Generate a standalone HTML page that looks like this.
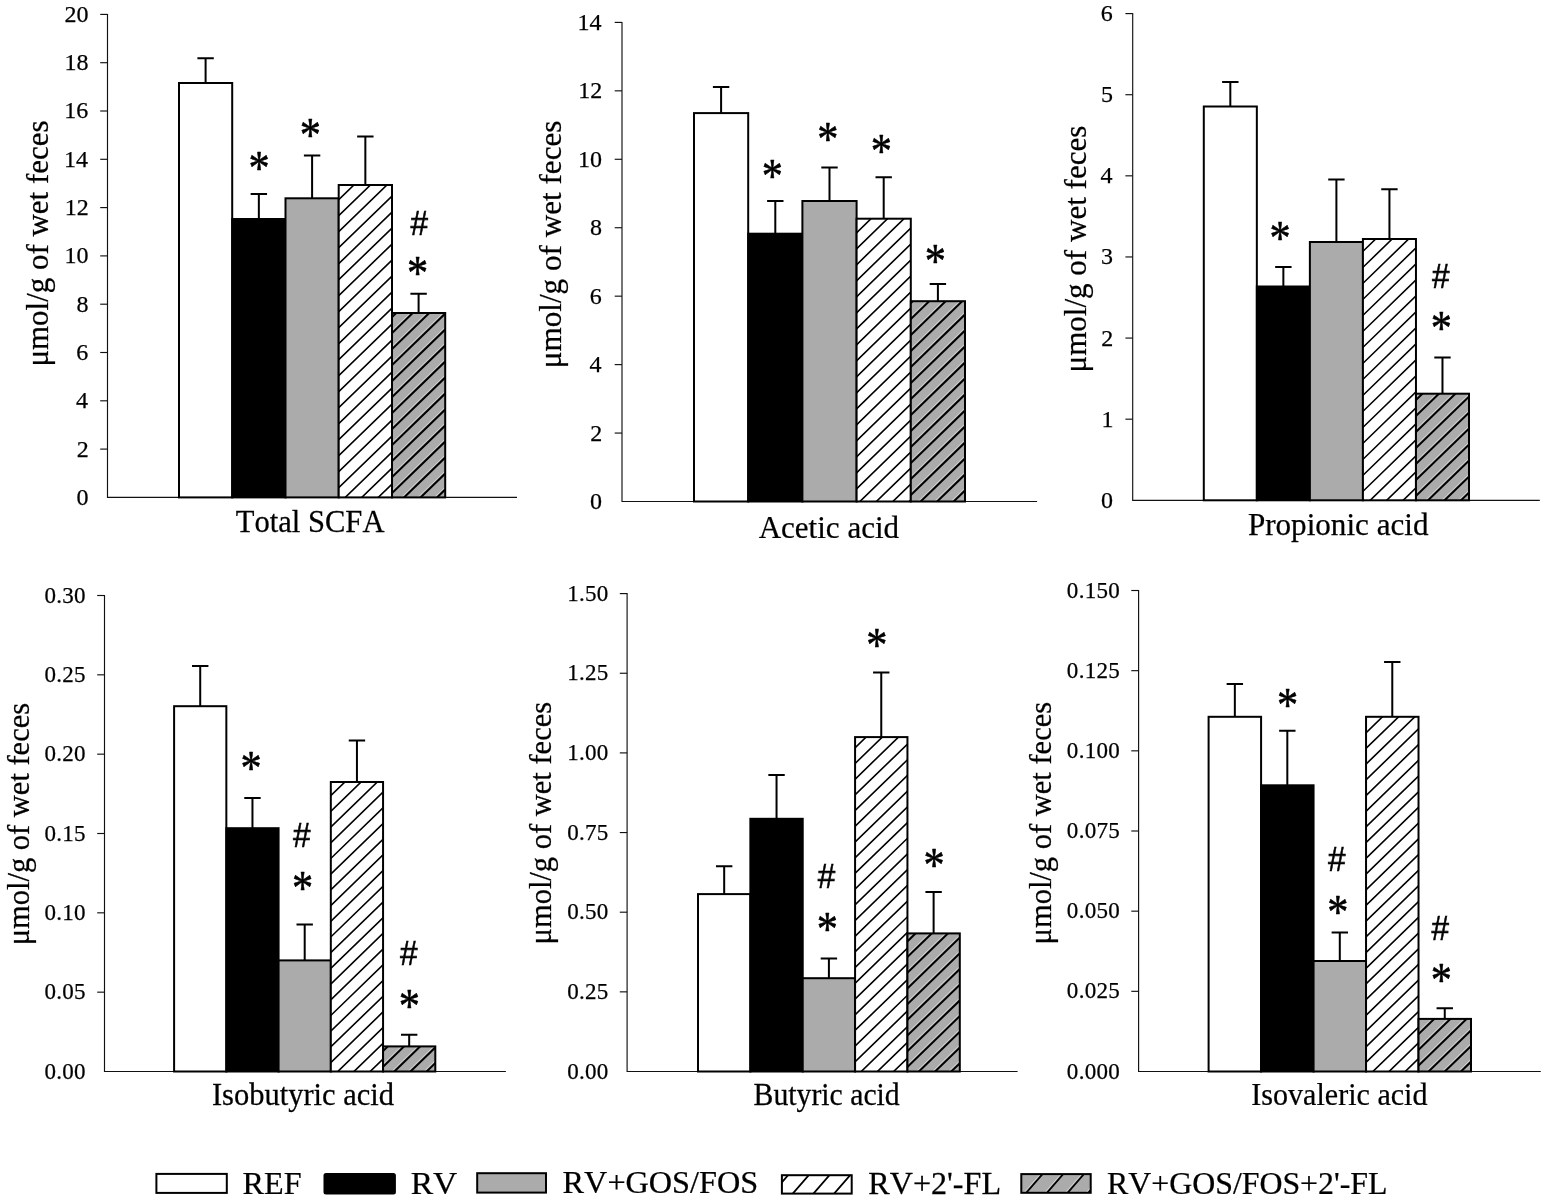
<!DOCTYPE html><html><head><meta charset="utf-8"><title>Short-chain fatty acids</title><style>html,body{margin:0;padding:0;background:#fff;overflow:hidden}svg{display:block}text{font-kerning:none;fill:#000}.s{font-family:"Liberation Serif", "Times New Roman", serif;stroke:#000;stroke-width:0.25px}.a{font-family:"Liberation Sans", Arial, sans-serif}</style></head><body><svg width="1547" height="1201" viewBox="0 0 1547 1201"><rect width="1547" height="1201" fill="#fff"/><g><path d="M107.5,13.9V497.4H517" fill="none" stroke="#111" stroke-width="1.15"/><path d="M100.2,449.1H107.5" stroke="#111" stroke-width="1.15"/><path d="M100.2,400.8H107.5" stroke="#111" stroke-width="1.15"/><path d="M100.2,352.5H107.5" stroke="#111" stroke-width="1.15"/><path d="M100.2,304.2H107.5" stroke="#111" stroke-width="1.15"/><path d="M100.2,255.9H107.5" stroke="#111" stroke-width="1.15"/><path d="M100.2,207.6H107.5" stroke="#111" stroke-width="1.15"/><path d="M100.2,159.3H107.5" stroke="#111" stroke-width="1.15"/><path d="M100.2,111H107.5" stroke="#111" stroke-width="1.15"/><path d="M100.2,62.7H107.5" stroke="#111" stroke-width="1.15"/><path d="M100.2,14.4H107.5" stroke="#111" stroke-width="1.15"/><text class="s" font-size="24" x="76.5" y="504.88">0</text><text class="s" font-size="24" x="76.75" y="456.57">2</text><text class="s" font-size="24" x="76" y="408.27">4</text><text class="s" font-size="24" x="76.25" y="359.85">6</text><text class="s" font-size="24" x="76.5" y="311.68">8</text><text class="s" font-size="24" x="64.5" y="263.38">10</text><text class="s" font-size="24" x="64.75" y="215.08">12</text><text class="s" font-size="24" x="64" y="166.78">14</text><text class="s" font-size="24" x="64.25" y="118.35">16</text><text class="s" font-size="24" x="64.5" y="70.17">18</text><text class="s" font-size="24" x="64.5" y="21.87">20</text><path d="M205.6,83V58.3M197.4,58.3H213.8" stroke="#000" stroke-width="2" fill="none"/><rect x="179" y="83" width="53.2" height="414.4" fill="#fff" stroke="#000" stroke-width="2"/><path d="M258.85,219V194.1M250.65,194.1H267.05" stroke="#000" stroke-width="2" fill="none"/><rect x="232.2" y="219" width="53.3" height="278.4" fill="#000" stroke="#000" stroke-width="2"/><path d="M312.1,198.3V155.5M303.9,155.5H320.3" stroke="#000" stroke-width="2" fill="none"/><rect x="285.5" y="198.3" width="53.2" height="299.1" fill="#ababab" stroke="#000" stroke-width="2"/><path d="M365.35,185V136.6M357.15,136.6H373.55" stroke="#000" stroke-width="2" fill="none"/><clipPath id="c1"><rect x="338.7" y="185" width="53.3" height="312.4"/></clipPath><rect x="338.7" y="185" width="53.3" height="312.4" fill="#fff"/><g clip-path="url(#c1)"><path d="M336.7,153.7L394,98.12M336.7,169.7L394,114.12M336.7,185.7L394,130.12M336.7,201.7L394,146.12M336.7,217.7L394,162.12M336.7,233.7L394,178.12M336.7,249.7L394,194.12M336.7,265.7L394,210.12M336.7,281.7L394,226.12M336.7,297.7L394,242.12M336.7,313.7L394,258.12M336.7,329.7L394,274.12M336.7,345.7L394,290.12M336.7,361.7L394,306.12M336.7,377.7L394,322.12M336.7,393.7L394,338.12M336.7,409.7L394,354.12M336.7,425.7L394,370.12M336.7,441.7L394,386.12M336.7,457.7L394,402.12M336.7,473.7L394,418.12M336.7,489.7L394,434.12M336.7,505.7L394,450.12M336.7,521.7L394,466.12M336.7,537.7L394,482.12M336.7,553.7L394,498.12M336.7,569.7L394,514.12" stroke="#000" stroke-width="1.6" fill="none"/></g><rect x="338.7" y="185" width="53.3" height="312.4" fill="none" stroke="#000" stroke-width="2"/><path d="M418.6,313V293.8M410.4,293.8H426.8" stroke="#000" stroke-width="2" fill="none"/><clipPath id="c2"><rect x="392" y="313" width="53.2" height="184.4"/></clipPath><rect x="392" y="313" width="53.2" height="184.4" fill="#ababab"/><g clip-path="url(#c2)"><path d="M390,284.47L447.2,228.99M390,300.47L447.2,244.99M390,316.47L447.2,260.99M390,332.47L447.2,276.99M390,348.47L447.2,292.99M390,364.47L447.2,308.99M390,380.47L447.2,324.99M390,396.47L447.2,340.99M390,412.47L447.2,356.99M390,428.47L447.2,372.99M390,444.47L447.2,388.99M390,460.47L447.2,404.99M390,476.47L447.2,420.99M390,492.47L447.2,436.99M390,508.47L447.2,452.99M390,524.47L447.2,468.99M390,540.47L447.2,484.99M390,556.47L447.2,500.99M390,572.47L447.2,516.99" stroke="#d8d8d8" stroke-width="0.9" fill="none"/><path d="M390,287.07L447.2,231.59M390,303.07L447.2,247.59M390,319.07L447.2,263.59M390,335.07L447.2,279.59M390,351.07L447.2,295.59M390,367.07L447.2,311.59M390,383.07L447.2,327.59M390,399.07L447.2,343.59M390,415.07L447.2,359.59M390,431.07L447.2,375.59M390,447.07L447.2,391.59M390,463.07L447.2,407.59M390,479.07L447.2,423.59M390,495.07L447.2,439.59M390,511.07L447.2,455.59M390,527.07L447.2,471.59M390,543.07L447.2,487.59M390,559.07L447.2,503.59M390,575.07L447.2,519.59" stroke="#000" stroke-width="2" fill="none"/></g><rect x="392" y="313" width="53.2" height="184.4" fill="none" stroke="#000" stroke-width="2"/><text class="s" style="stroke:#000;stroke-width:0.6px;stroke-linejoin:round" font-size="48.98" transform="translate(259,160.7) scale(0.863,1)" x="-12.24" y="23.08">*</text><text class="s" style="stroke:#000;stroke-width:0.6px;stroke-linejoin:round" font-size="48.98" transform="translate(310.4,127.8) scale(0.863,1)" x="-12.24" y="23.08">*</text><text class="a" style="stroke:#000;stroke-width:0.55px" font-size="34.74" transform="translate(419.2,223.4) scale(0.909,1)" x="-9.69" y="11.9">#</text><text class="s" style="stroke:#000;stroke-width:0.6px;stroke-linejoin:round" font-size="48.98" transform="translate(417.65,266.05) scale(0.863,1)" x="-12.24" y="23.08">*</text><text class="s" font-size="31" transform="translate(235.71,532) scale(0.9873,1)">Total SCFA</text><text class="s" font-size="31" transform="translate(48.3,366.6) rotate(-90) scale(0.9986,1)">&#956;mol/g of wet feces</text></g><g><path d="M622,21.9V501.5H1037.1" fill="none" stroke="#111" stroke-width="1.15"/><path d="M614.7,433.06H622" stroke="#111" stroke-width="1.15"/><path d="M614.7,364.61H622" stroke="#111" stroke-width="1.15"/><path d="M614.7,296.17H622" stroke="#111" stroke-width="1.15"/><path d="M614.7,227.73H622" stroke="#111" stroke-width="1.15"/><path d="M614.7,159.29H622" stroke="#111" stroke-width="1.15"/><path d="M614.7,90.84H622" stroke="#111" stroke-width="1.15"/><path d="M614.7,22.4H622" stroke="#111" stroke-width="1.15"/><text class="s" font-size="24" x="590" y="508.98">0</text><text class="s" font-size="24" x="590.25" y="440.53">2</text><text class="s" font-size="24" x="589.5" y="372.09">4</text><text class="s" font-size="24" x="589.75" y="303.52">6</text><text class="s" font-size="24" x="590" y="235.2">8</text><text class="s" font-size="24" x="578" y="166.76">10</text><text class="s" font-size="24" x="578.25" y="98.32">12</text><text class="s" font-size="24" x="577.5" y="29.87">14</text><path d="M721.1,113.1V87.1M712.9,87.1H729.3" stroke="#000" stroke-width="2" fill="none"/><rect x="694" y="113.1" width="54.2" height="388.4" fill="#fff" stroke="#000" stroke-width="2"/><path d="M775.3,233.7V201M767.1,201H783.5" stroke="#000" stroke-width="2" fill="none"/><rect x="748.2" y="233.7" width="54.2" height="267.8" fill="#000" stroke="#000" stroke-width="2"/><path d="M829.5,201V167.5M821.3,167.5H837.7" stroke="#000" stroke-width="2" fill="none"/><rect x="802.4" y="201" width="54.2" height="300.5" fill="#ababab" stroke="#000" stroke-width="2"/><path d="M883.7,218.7V177.3M875.5,177.3H891.9" stroke="#000" stroke-width="2" fill="none"/><clipPath id="c3"><rect x="856.6" y="218.7" width="54.2" height="282.8"/></clipPath><rect x="856.6" y="218.7" width="54.2" height="282.8" fill="#fff"/><g clip-path="url(#c3)"><path d="M854.6,202.63L912.8,146.17M854.6,218.63L912.8,162.17M854.6,234.63L912.8,178.17M854.6,250.63L912.8,194.17M854.6,266.63L912.8,210.17M854.6,282.63L912.8,226.17M854.6,298.63L912.8,242.17M854.6,314.63L912.8,258.17M854.6,330.63L912.8,274.17M854.6,346.63L912.8,290.17M854.6,362.63L912.8,306.17M854.6,378.63L912.8,322.17M854.6,394.63L912.8,338.17M854.6,410.63L912.8,354.17M854.6,426.63L912.8,370.17M854.6,442.63L912.8,386.17M854.6,458.63L912.8,402.17M854.6,474.63L912.8,418.17M854.6,490.63L912.8,434.17M854.6,506.63L912.8,450.17M854.6,522.63L912.8,466.17M854.6,538.63L912.8,482.17M854.6,554.63L912.8,498.17M854.6,570.63L912.8,514.17M854.6,586.63L912.8,530.17" stroke="#000" stroke-width="1.6" fill="none"/></g><rect x="856.6" y="218.7" width="54.2" height="282.8" fill="none" stroke="#000" stroke-width="2"/><path d="M937.9,301.2V284.1M929.7,284.1H946.1" stroke="#000" stroke-width="2" fill="none"/><clipPath id="c4"><rect x="910.8" y="301.2" width="54.2" height="200.3"/></clipPath><rect x="910.8" y="301.2" width="54.2" height="200.3" fill="#ababab"/><g clip-path="url(#c4)"><path d="M908.8,270.41L967,213.96M908.8,286.41L967,229.96M908.8,302.41L967,245.96M908.8,318.41L967,261.96M908.8,334.41L967,277.96M908.8,350.41L967,293.96M908.8,366.41L967,309.96M908.8,382.41L967,325.96M908.8,398.41L967,341.96M908.8,414.41L967,357.96M908.8,430.41L967,373.96M908.8,446.41L967,389.96M908.8,462.41L967,405.96M908.8,478.41L967,421.96M908.8,494.41L967,437.96M908.8,510.41L967,453.96M908.8,526.41L967,469.96M908.8,542.41L967,485.96M908.8,558.41L967,501.96M908.8,574.41L967,517.96" stroke="#d8d8d8" stroke-width="0.9" fill="none"/><path d="M908.8,273.01L967,216.56M908.8,289.01L967,232.56M908.8,305.01L967,248.56M908.8,321.01L967,264.56M908.8,337.01L967,280.56M908.8,353.01L967,296.56M908.8,369.01L967,312.56M908.8,385.01L967,328.56M908.8,401.01L967,344.56M908.8,417.01L967,360.56M908.8,433.01L967,376.56M908.8,449.01L967,392.56M908.8,465.01L967,408.56M908.8,481.01L967,424.56M908.8,497.01L967,440.56M908.8,513.01L967,456.56M908.8,529.01L967,472.56M908.8,545.01L967,488.56M908.8,561.01L967,504.56M908.8,577.01L967,520.56" stroke="#000" stroke-width="2" fill="none"/></g><rect x="910.8" y="301.2" width="54.2" height="200.3" fill="none" stroke="#000" stroke-width="2"/><text class="s" style="stroke:#000;stroke-width:0.6px;stroke-linejoin:round" font-size="48.98" transform="translate(772.2,169) scale(0.863,1)" x="-12.24" y="23.08">*</text><text class="s" style="stroke:#000;stroke-width:0.6px;stroke-linejoin:round" font-size="48.98" transform="translate(827.8,132) scale(0.863,1)" x="-12.24" y="23.08">*</text><text class="s" style="stroke:#000;stroke-width:0.6px;stroke-linejoin:round" font-size="48.98" transform="translate(881.3,144.3) scale(0.863,1)" x="-12.24" y="23.08">*</text><text class="s" style="stroke:#000;stroke-width:0.6px;stroke-linejoin:round" font-size="48.98" transform="translate(935.3,253.9) scale(0.863,1)" x="-12.24" y="23.08">*</text><text class="s" font-size="31" transform="translate(758.65,538) scale(1.0014,1)">Acetic acid</text><text class="s" font-size="31" transform="translate(561.4,368.31) rotate(-90) scale(1.0056,1)">&#956;mol/g of wet feces</text></g><g><path d="M1132.7,13.1V500.3H1539.8" fill="none" stroke="#111" stroke-width="1.15"/><path d="M1125.4,419.18H1132.7" stroke="#111" stroke-width="1.15"/><path d="M1125.4,338.07H1132.7" stroke="#111" stroke-width="1.15"/><path d="M1125.4,256.95H1132.7" stroke="#111" stroke-width="1.15"/><path d="M1125.4,175.83H1132.7" stroke="#111" stroke-width="1.15"/><path d="M1125.4,94.72H1132.7" stroke="#111" stroke-width="1.15"/><path d="M1125.4,13.6H1132.7" stroke="#111" stroke-width="1.15"/><text class="s" font-size="24" x="1100.9" y="507.78">0</text><text class="s" font-size="24" x="1101.4" y="426.66">1</text><text class="s" font-size="24" x="1101.15" y="345.54">2</text><text class="s" font-size="24" x="1100.9" y="264.3">3</text><text class="s" font-size="24" x="1100.4" y="183.31">4</text><text class="s" font-size="24" x="1100.9" y="102.07">5</text><text class="s" font-size="24" x="1100.65" y="20.95">6</text><path d="M1230.32,106.5V82.1M1222.12,82.1H1238.52" stroke="#000" stroke-width="2" fill="none"/><rect x="1203.8" y="106.5" width="53.04" height="393.8" fill="#fff" stroke="#000" stroke-width="2"/><path d="M1283.36,286.5V267M1275.16,267H1291.56" stroke="#000" stroke-width="2" fill="none"/><rect x="1256.84" y="286.5" width="53.04" height="213.8" fill="#000" stroke="#000" stroke-width="2"/><path d="M1336.4,242V179.4M1328.2,179.4H1344.6" stroke="#000" stroke-width="2" fill="none"/><rect x="1309.88" y="242" width="53.04" height="258.3" fill="#ababab" stroke="#000" stroke-width="2"/><path d="M1389.44,239V189.3M1381.24,189.3H1397.64" stroke="#000" stroke-width="2" fill="none"/><clipPath id="c5"><rect x="1362.92" y="239" width="53.04" height="261.3"/></clipPath><rect x="1362.92" y="239" width="53.04" height="261.3" fill="#fff"/><g clip-path="url(#c5)"><path d="M1360.92,221.29L1417.96,165.96M1360.92,237.29L1417.96,181.96M1360.92,253.29L1417.96,197.96M1360.92,269.29L1417.96,213.96M1360.92,285.29L1417.96,229.96M1360.92,301.29L1417.96,245.96M1360.92,317.29L1417.96,261.96M1360.92,333.29L1417.96,277.96M1360.92,349.29L1417.96,293.96M1360.92,365.29L1417.96,309.96M1360.92,381.29L1417.96,325.96M1360.92,397.29L1417.96,341.96M1360.92,413.29L1417.96,357.96M1360.92,429.29L1417.96,373.96M1360.92,445.29L1417.96,389.96M1360.92,461.29L1417.96,405.96M1360.92,477.29L1417.96,421.96M1360.92,493.29L1417.96,437.96M1360.92,509.29L1417.96,453.96M1360.92,525.29L1417.96,469.96M1360.92,541.29L1417.96,485.96M1360.92,557.29L1417.96,501.96M1360.92,573.29L1417.96,517.96" stroke="#000" stroke-width="1.6" fill="none"/></g><rect x="1362.92" y="239" width="53.04" height="261.3" fill="none" stroke="#000" stroke-width="2"/><path d="M1442.48,393.7V357.4M1434.28,357.4H1450.68" stroke="#000" stroke-width="2" fill="none"/><clipPath id="c6"><rect x="1415.96" y="393.7" width="53.04" height="106.6"/></clipPath><rect x="1415.96" y="393.7" width="53.04" height="106.6" fill="#ababab"/><g clip-path="url(#c6)"><path d="M1413.96,367.35L1471,312.02M1413.96,383.35L1471,328.02M1413.96,399.35L1471,344.02M1413.96,415.35L1471,360.02M1413.96,431.35L1471,376.02M1413.96,447.35L1471,392.02M1413.96,463.35L1471,408.02M1413.96,479.35L1471,424.02M1413.96,495.35L1471,440.02M1413.96,511.35L1471,456.02M1413.96,527.35L1471,472.02M1413.96,543.35L1471,488.02M1413.96,559.35L1471,504.02M1413.96,575.35L1471,520.02" stroke="#d8d8d8" stroke-width="0.9" fill="none"/><path d="M1413.96,369.95L1471,314.62M1413.96,385.95L1471,330.62M1413.96,401.95L1471,346.62M1413.96,417.95L1471,362.62M1413.96,433.95L1471,378.62M1413.96,449.95L1471,394.62M1413.96,465.95L1471,410.62M1413.96,481.95L1471,426.62M1413.96,497.95L1471,442.62M1413.96,513.95L1471,458.62M1413.96,529.95L1471,474.62M1413.96,545.95L1471,490.62M1413.96,561.95L1471,506.62M1413.96,577.95L1471,522.62" stroke="#000" stroke-width="2" fill="none"/></g><rect x="1415.96" y="393.7" width="53.04" height="106.6" fill="none" stroke="#000" stroke-width="2"/><text class="s" style="stroke:#000;stroke-width:0.6px;stroke-linejoin:round" font-size="48.98" transform="translate(1280,231) scale(0.863,1)" x="-12.24" y="23.08">*</text><text class="a" style="stroke:#000;stroke-width:0.55px" font-size="34.74" transform="translate(1440.7,276) scale(0.909,1)" x="-9.69" y="11.9">#</text><text class="s" style="stroke:#000;stroke-width:0.6px;stroke-linejoin:round" font-size="48.98" transform="translate(1441.4,321) scale(0.863,1)" x="-12.24" y="23.08">*</text><text class="s" font-size="31" transform="translate(1247.9,534.7) scale(1.0039,1)">Propionic acid</text><text class="s" font-size="31" transform="translate(1085.7,372.5) rotate(-90) scale(1.0019,1)">&#956;mol/g of wet feces</text></g><g><path d="M104.5,595V1071.5H505.9" fill="none" stroke="#111" stroke-width="1.15"/><path d="M97.2,992.17H104.5" stroke="#111" stroke-width="1.15"/><path d="M97.2,912.83H104.5" stroke="#111" stroke-width="1.15"/><path d="M97.2,833.5H104.5" stroke="#111" stroke-width="1.15"/><path d="M97.2,754.17H104.5" stroke="#111" stroke-width="1.15"/><path d="M97.2,674.83H104.5" stroke="#111" stroke-width="1.15"/><path d="M97.2,595.5H104.5" stroke="#111" stroke-width="1.15"/><text class="s" font-size="23" letter-spacing="0.3" x="44.45" y="1078.6">0.00</text><text class="s" font-size="23" letter-spacing="0.3" x="44.45" y="999.27">0.05</text><text class="s" font-size="23" letter-spacing="0.3" x="44.45" y="919.93">0.10</text><text class="s" font-size="23" letter-spacing="0.3" x="44.45" y="840.6">0.15</text><text class="s" font-size="23" letter-spacing="0.3" x="44.45" y="761.27">0.20</text><text class="s" font-size="23" letter-spacing="0.3" x="44.45" y="681.93">0.25</text><text class="s" font-size="23" letter-spacing="0.3" x="44.45" y="602.6">0.30</text><path d="M200.22,706.2V666M192.02,666H208.42" stroke="#000" stroke-width="2" fill="none"/><rect x="174.1" y="706.2" width="52.24" height="365.3" fill="#fff" stroke="#000" stroke-width="2"/><path d="M252.46,828.2V797.9M244.26,797.9H260.66" stroke="#000" stroke-width="2" fill="none"/><rect x="226.34" y="828.2" width="52.24" height="243.3" fill="#000" stroke="#000" stroke-width="2"/><path d="M304.7,960.4V924.4M296.5,924.4H312.9" stroke="#000" stroke-width="2" fill="none"/><rect x="278.58" y="960.4" width="52.24" height="111.1" fill="#ababab" stroke="#000" stroke-width="2"/><path d="M356.94,782V740.6M348.74,740.6H365.14" stroke="#000" stroke-width="2" fill="none"/><clipPath id="c7"><rect x="330.82" y="782" width="52.24" height="289.5"/></clipPath><rect x="330.82" y="782" width="52.24" height="289.5" fill="#fff"/><g clip-path="url(#c7)"><path d="M328.82,766.2L385.06,711.65M328.82,781.9L385.06,727.35M328.82,797.6L385.06,743.05M328.82,813.3L385.06,758.75M328.82,829L385.06,774.45M328.82,844.7L385.06,790.15M328.82,860.4L385.06,805.85M328.82,876.1L385.06,821.55M328.82,891.8L385.06,837.25M328.82,907.5L385.06,852.95M328.82,923.2L385.06,868.65M328.82,938.9L385.06,884.35M328.82,954.6L385.06,900.05M328.82,970.3L385.06,915.75M328.82,986L385.06,931.45M328.82,1001.7L385.06,947.15M328.82,1017.4L385.06,962.85M328.82,1033.1L385.06,978.55M328.82,1048.8L385.06,994.25M328.82,1064.5L385.06,1009.95M328.82,1080.2L385.06,1025.65M328.82,1095.9L385.06,1041.35M328.82,1111.6L385.06,1057.05M328.82,1127.3L385.06,1072.75M328.82,1143L385.06,1088.45" stroke="#000" stroke-width="1.6" fill="none"/></g><rect x="330.82" y="782" width="52.24" height="289.5" fill="none" stroke="#000" stroke-width="2"/><path d="M409.18,1046.4V1034.7M400.98,1034.7H417.38" stroke="#000" stroke-width="2" fill="none"/><clipPath id="c8"><rect x="383.06" y="1046.4" width="52.24" height="25.1"/></clipPath><rect x="383.06" y="1046.4" width="52.24" height="25.1" fill="#ababab"/><g clip-path="url(#c8)"><path d="M381.06,1018.95L437.3,964.4M381.06,1034.65L437.3,980.1M381.06,1050.35L437.3,995.8M381.06,1066.05L437.3,1011.5M381.06,1081.75L437.3,1027.2M381.06,1097.45L437.3,1042.9M381.06,1113.15L437.3,1058.6M381.06,1128.85L437.3,1074.3M381.06,1144.55L437.3,1090" stroke="#d8d8d8" stroke-width="0.9" fill="none"/><path d="M381.06,1021.55L437.3,967M381.06,1037.25L437.3,982.7M381.06,1052.95L437.3,998.4M381.06,1068.65L437.3,1014.1M381.06,1084.35L437.3,1029.8M381.06,1100.05L437.3,1045.5M381.06,1115.75L437.3,1061.2M381.06,1131.45L437.3,1076.9M381.06,1147.15L437.3,1092.6" stroke="#000" stroke-width="2" fill="none"/></g><rect x="383.06" y="1046.4" width="52.24" height="25.1" fill="none" stroke="#000" stroke-width="2"/><text class="s" style="stroke:#000;stroke-width:0.6px;stroke-linejoin:round" font-size="48.98" transform="translate(251,761.2) scale(0.863,1)" x="-12.24" y="23.08">*</text><text class="a" style="stroke:#000;stroke-width:0.55px" font-size="34.74" transform="translate(301.9,835.5) scale(0.909,1)" x="-9.69" y="11.9">#</text><text class="s" style="stroke:#000;stroke-width:0.6px;stroke-linejoin:round" font-size="48.98" transform="translate(302.6,880.8) scale(0.863,1)" x="-12.24" y="23.08">*</text><text class="a" style="stroke:#000;stroke-width:0.55px" font-size="34.74" transform="translate(408.8,953) scale(0.909,1)" x="-9.69" y="11.9">#</text><text class="s" style="stroke:#000;stroke-width:0.6px;stroke-linejoin:round" font-size="48.98" transform="translate(409.4,998.5) scale(0.863,1)" x="-12.24" y="23.08">*</text><text class="s" font-size="31" transform="translate(211.91,1104.7) scale(0.9850,1)">Isobutyric acid</text><text class="s" font-size="31" transform="translate(28.7,945.26) rotate(-90) scale(0.9837,1)">&#956;mol/g of wet feces</text></g><g><path d="M627.1,593.1V1071.5H1017.6" fill="none" stroke="#111" stroke-width="1.15"/><path d="M619.8,991.85H627.1" stroke="#111" stroke-width="1.15"/><path d="M619.8,912.2H627.1" stroke="#111" stroke-width="1.15"/><path d="M619.8,832.55H627.1" stroke="#111" stroke-width="1.15"/><path d="M619.8,752.9H627.1" stroke="#111" stroke-width="1.15"/><path d="M619.8,673.25H627.1" stroke="#111" stroke-width="1.15"/><path d="M619.8,593.6H627.1" stroke="#111" stroke-width="1.15"/><text class="s" font-size="23" letter-spacing="0.3" x="567.15" y="1078.6">0.00</text><text class="s" font-size="23" letter-spacing="0.3" x="567.15" y="998.95">0.25</text><text class="s" font-size="23" letter-spacing="0.3" x="567.15" y="919.3">0.50</text><text class="s" font-size="23" letter-spacing="0.3" x="567.15" y="839.65">0.75</text><text class="s" font-size="23" letter-spacing="0.3" x="567.15" y="760">1.00</text><text class="s" font-size="23" letter-spacing="0.3" x="567.15" y="680.35">1.25</text><text class="s" font-size="23" letter-spacing="0.3" x="567.15" y="600.7">1.50</text><path d="M724.18,894.1V866.3M715.98,866.3H732.38" stroke="#000" stroke-width="2" fill="none"/><rect x="698" y="894.1" width="52.36" height="177.4" fill="#fff" stroke="#000" stroke-width="2"/><path d="M776.54,818.8V775M768.34,775H784.74" stroke="#000" stroke-width="2" fill="none"/><rect x="750.36" y="818.8" width="52.36" height="252.7" fill="#000" stroke="#000" stroke-width="2"/><path d="M828.9,978.2V958.4M820.7,958.4H837.1" stroke="#000" stroke-width="2" fill="none"/><rect x="802.72" y="978.2" width="52.36" height="93.3" fill="#ababab" stroke="#000" stroke-width="2"/><path d="M881.26,737.1V672.4M873.06,672.4H889.46" stroke="#000" stroke-width="2" fill="none"/><clipPath id="c9"><rect x="855.08" y="737.1" width="52.36" height="334.4"/></clipPath><rect x="855.08" y="737.1" width="52.36" height="334.4" fill="#fff"/><g clip-path="url(#c9)"><path d="M853.08,718.33L909.44,663.66M853.08,734.03L909.44,679.36M853.08,749.73L909.44,695.06M853.08,765.43L909.44,710.76M853.08,781.13L909.44,726.46M853.08,796.83L909.44,742.16M853.08,812.53L909.44,757.86M853.08,828.23L909.44,773.56M853.08,843.93L909.44,789.26M853.08,859.63L909.44,804.96M853.08,875.33L909.44,820.66M853.08,891.03L909.44,836.36M853.08,906.73L909.44,852.06M853.08,922.43L909.44,867.76M853.08,938.13L909.44,883.46M853.08,953.83L909.44,899.16M853.08,969.53L909.44,914.86M853.08,985.23L909.44,930.56M853.08,1000.93L909.44,946.26M853.08,1016.63L909.44,961.96M853.08,1032.33L909.44,977.66M853.08,1048.03L909.44,993.36M853.08,1063.73L909.44,1009.06M853.08,1079.43L909.44,1024.76M853.08,1095.13L909.44,1040.46M853.08,1110.83L909.44,1056.16M853.08,1126.53L909.44,1071.86M853.08,1142.23L909.44,1087.56" stroke="#000" stroke-width="1.6" fill="none"/></g><rect x="855.08" y="737.1" width="52.36" height="334.4" fill="none" stroke="#000" stroke-width="2"/><path d="M933.62,933.4V892M925.42,892H941.82" stroke="#000" stroke-width="2" fill="none"/><clipPath id="c10"><rect x="907.44" y="933.4" width="52.36" height="138.1"/></clipPath><rect x="907.44" y="933.4" width="52.36" height="138.1" fill="#ababab"/><g clip-path="url(#c10)"><path d="M905.44,909.26L961.8,854.59M905.44,924.96L961.8,870.29M905.44,940.66L961.8,885.99M905.44,956.36L961.8,901.69M905.44,972.06L961.8,917.39M905.44,987.76L961.8,933.09M905.44,1003.46L961.8,948.79M905.44,1019.16L961.8,964.49M905.44,1034.86L961.8,980.19M905.44,1050.56L961.8,995.89M905.44,1066.26L961.8,1011.59M905.44,1081.96L961.8,1027.29M905.44,1097.66L961.8,1042.99M905.44,1113.36L961.8,1058.69M905.44,1129.06L961.8,1074.39M905.44,1144.76L961.8,1090.09" stroke="#d8d8d8" stroke-width="0.9" fill="none"/><path d="M905.44,911.86L961.8,857.19M905.44,927.56L961.8,872.89M905.44,943.26L961.8,888.59M905.44,958.96L961.8,904.29M905.44,974.66L961.8,919.99M905.44,990.36L961.8,935.69M905.44,1006.06L961.8,951.39M905.44,1021.76L961.8,967.09M905.44,1037.46L961.8,982.79M905.44,1053.16L961.8,998.49M905.44,1068.86L961.8,1014.19M905.44,1084.56L961.8,1029.89M905.44,1100.26L961.8,1045.59M905.44,1115.96L961.8,1061.29M905.44,1131.66L961.8,1076.99M905.44,1147.36L961.8,1092.69" stroke="#000" stroke-width="2" fill="none"/></g><rect x="907.44" y="933.4" width="52.36" height="138.1" fill="none" stroke="#000" stroke-width="2"/><text class="a" style="stroke:#000;stroke-width:0.55px" font-size="34.74" transform="translate(826.5,876.5) scale(0.909,1)" x="-9.69" y="11.9">#</text><text class="s" style="stroke:#000;stroke-width:0.6px;stroke-linejoin:round" font-size="48.98" transform="translate(827.3,922.3) scale(0.863,1)" x="-12.24" y="23.08">*</text><text class="s" style="stroke:#000;stroke-width:0.6px;stroke-linejoin:round" font-size="48.98" transform="translate(876.7,638.1) scale(0.863,1)" x="-12.24" y="23.08">*</text><text class="s" style="stroke:#000;stroke-width:0.6px;stroke-linejoin:round" font-size="48.98" transform="translate(934,858.1) scale(0.863,1)" x="-12.24" y="23.08">*</text><text class="s" font-size="31" transform="translate(753.54,1104.7) scale(0.9596,1)">Butyric acid</text><text class="s" font-size="31" transform="translate(551.2,944.46) rotate(-90) scale(0.9846,1)">&#956;mol/g of wet feces</text></g><g><path d="M1138.6,590V1071.5H1540.8" fill="none" stroke="#111" stroke-width="1.15"/><path d="M1131.3,991.33H1138.6" stroke="#111" stroke-width="1.15"/><path d="M1131.3,911.17H1138.6" stroke="#111" stroke-width="1.15"/><path d="M1131.3,831H1138.6" stroke="#111" stroke-width="1.15"/><path d="M1131.3,750.83H1138.6" stroke="#111" stroke-width="1.15"/><path d="M1131.3,670.67H1138.6" stroke="#111" stroke-width="1.15"/><path d="M1131.3,590.5H1138.6" stroke="#111" stroke-width="1.15"/><text class="s" font-size="23" letter-spacing="0.3" x="1066.85" y="1078.6">0.000</text><text class="s" font-size="23" letter-spacing="0.3" x="1066.85" y="998.43">0.025</text><text class="s" font-size="23" letter-spacing="0.3" x="1066.85" y="918.27">0.050</text><text class="s" font-size="23" letter-spacing="0.3" x="1066.85" y="838.1">0.075</text><text class="s" font-size="23" letter-spacing="0.3" x="1066.85" y="757.93">0.100</text><text class="s" font-size="23" letter-spacing="0.3" x="1066.85" y="677.77">0.125</text><text class="s" font-size="23" letter-spacing="0.3" x="1066.85" y="597.6">0.150</text><path d="M1234.84,716.8V684.1M1226.64,684.1H1243.04" stroke="#000" stroke-width="2" fill="none"/><rect x="1208.6" y="716.8" width="52.48" height="354.7" fill="#fff" stroke="#000" stroke-width="2"/><path d="M1287.32,785.3V730.8M1279.12,730.8H1295.52" stroke="#000" stroke-width="2" fill="none"/><rect x="1261.08" y="785.3" width="52.48" height="286.2" fill="#000" stroke="#000" stroke-width="2"/><path d="M1339.8,961V932.5M1331.6,932.5H1348" stroke="#000" stroke-width="2" fill="none"/><rect x="1313.56" y="961" width="52.48" height="110.5" fill="#ababab" stroke="#000" stroke-width="2"/><path d="M1392.28,716.8V662M1384.08,662H1400.48" stroke="#000" stroke-width="2" fill="none"/><clipPath id="c11"><rect x="1366.04" y="716.8" width="52.48" height="354.7"/></clipPath><rect x="1366.04" y="716.8" width="52.48" height="354.7" fill="#fff"/><g clip-path="url(#c11)"><path d="M1364.04,687.57L1420.52,632.79M1364.04,703.27L1420.52,648.49M1364.04,718.97L1420.52,664.19M1364.04,734.67L1420.52,679.89M1364.04,750.37L1420.52,695.59M1364.04,766.07L1420.52,711.29M1364.04,781.77L1420.52,726.99M1364.04,797.47L1420.52,742.69M1364.04,813.17L1420.52,758.39M1364.04,828.87L1420.52,774.09M1364.04,844.57L1420.52,789.79M1364.04,860.27L1420.52,805.49M1364.04,875.97L1420.52,821.19M1364.04,891.67L1420.52,836.89M1364.04,907.37L1420.52,852.59M1364.04,923.07L1420.52,868.29M1364.04,938.77L1420.52,883.99M1364.04,954.47L1420.52,899.69M1364.04,970.17L1420.52,915.39M1364.04,985.87L1420.52,931.09M1364.04,1001.57L1420.52,946.79M1364.04,1017.27L1420.52,962.49M1364.04,1032.97L1420.52,978.19M1364.04,1048.67L1420.52,993.89M1364.04,1064.37L1420.52,1009.59M1364.04,1080.07L1420.52,1025.29M1364.04,1095.77L1420.52,1040.99M1364.04,1111.47L1420.52,1056.69M1364.04,1127.17L1420.52,1072.39M1364.04,1142.87L1420.52,1088.09" stroke="#000" stroke-width="1.6" fill="none"/></g><rect x="1366.04" y="716.8" width="52.48" height="354.7" fill="none" stroke="#000" stroke-width="2"/><path d="M1444.76,1018.9V1008.2M1436.56,1008.2H1452.96" stroke="#000" stroke-width="2" fill="none"/><clipPath id="c12"><rect x="1418.52" y="1018.9" width="52.48" height="52.6"/></clipPath><rect x="1418.52" y="1018.9" width="52.48" height="52.6" fill="#ababab"/><g clip-path="url(#c12)"><path d="M1416.52,1002.1L1473,947.31M1416.52,1017.8L1473,963.01M1416.52,1033.5L1473,978.71M1416.52,1049.2L1473,994.41M1416.52,1064.9L1473,1010.11M1416.52,1080.6L1473,1025.81M1416.52,1096.3L1473,1041.51M1416.52,1112L1473,1057.21M1416.52,1127.7L1473,1072.91M1416.52,1143.4L1473,1088.61" stroke="#d8d8d8" stroke-width="0.9" fill="none"/><path d="M1416.52,989L1473,934.21M1416.52,1004.7L1473,949.91M1416.52,1020.4L1473,965.61M1416.52,1036.1L1473,981.31M1416.52,1051.8L1473,997.01M1416.52,1067.5L1473,1012.71M1416.52,1083.2L1473,1028.41M1416.52,1098.9L1473,1044.11M1416.52,1114.6L1473,1059.81M1416.52,1130.3L1473,1075.51M1416.52,1146L1473,1091.21" stroke="#000" stroke-width="2" fill="none"/></g><rect x="1418.52" y="1018.9" width="52.48" height="52.6" fill="none" stroke="#000" stroke-width="2"/><text class="s" style="stroke:#000;stroke-width:0.6px;stroke-linejoin:round" font-size="48.98" transform="translate(1287.6,697.8) scale(0.863,1)" x="-12.24" y="23.08">*</text><text class="a" style="stroke:#000;stroke-width:0.55px" font-size="34.74" transform="translate(1336.8,859.1) scale(0.909,1)" x="-9.69" y="11.9">#</text><text class="s" style="stroke:#000;stroke-width:0.6px;stroke-linejoin:round" font-size="48.98" transform="translate(1337.7,904.6) scale(0.863,1)" x="-12.24" y="23.08">*</text><text class="a" style="stroke:#000;stroke-width:0.55px" font-size="34.74" transform="translate(1440.3,927.7) scale(0.909,1)" x="-9.69" y="11.9">#</text><text class="s" style="stroke:#000;stroke-width:0.6px;stroke-linejoin:round" font-size="48.98" transform="translate(1441.3,972.9) scale(0.863,1)" x="-12.24" y="23.08">*</text><text class="s" font-size="31" transform="translate(1251.33,1104.7) scale(0.9703,1)">Isovaleric acid</text><text class="s" font-size="31" transform="translate(1051,944.46) rotate(-90) scale(0.9846,1)">&#956;mol/g of wet feces</text></g><rect x="156.4" y="1173.9" width="70.4" height="19" fill="#fff" stroke="#000" stroke-width="2"/><text class="s" font-size="32.5" transform="translate(242.61,1193.7) scale(0.9896,1)">REF</text><rect x="324.5" y="1173.9" width="70.4" height="19.7" rx="1.5" fill="#000" stroke="#000" stroke-width="2"/><text class="s" font-size="32.5" transform="translate(410.67,1193.7) scale(1.0331,1)">RV</text><rect x="477.2" y="1173.2" width="68.8" height="19.4" fill="#ababab" stroke="#000" stroke-width="2"/><text class="s" font-size="32.5" transform="translate(562.61,1193.4) scale(0.9918,1)">RV+GOS/FOS</text><clipPath id="c13"><rect x="781.9" y="1175.2" width="69.8" height="18.4"/></clipPath><rect x="781.9" y="1175.2" width="69.8" height="18.4" fill="#fff"/><g clip-path="url(#c13)"><path d="M779.9,1136.96L853.7,1052.09M779.9,1160.76L853.7,1075.89M779.9,1184.57L853.7,1099.69M779.9,1208.37L853.7,1123.5M779.9,1232.18L853.7,1147.31M779.9,1255.98L853.7,1171.11M779.9,1279.79L853.7,1194.91M779.9,1303.59L853.7,1218.72" stroke="#000" stroke-width="1.8" fill="none"/></g><rect x="781.9" y="1175.2" width="69.8" height="18.4" fill="none" stroke="#000" stroke-width="2"/><text class="s" font-size="32.5" transform="translate(868.31,1194.3) scale(0.9886,1)">RV+2&#39;-FL</text><clipPath id="c14"><rect x="1021.3" y="1174.1" width="69.4" height="18.7"/></clipPath><rect x="1021.3" y="1174.1" width="69.4" height="18.7" fill="#ababab"/><g clip-path="url(#c14)"><path d="M1019.3,1150.57L1092.7,1066.16M1019.3,1174.38L1092.7,1089.96M1019.3,1198.18L1092.7,1113.77M1019.3,1221.99L1092.7,1137.58M1019.3,1245.79L1092.7,1161.38M1019.3,1269.6L1092.7,1185.18M1019.3,1293.4L1092.7,1208.99M1019.3,1317.21L1092.7,1232.8" stroke="#d8d8d8" stroke-width="0.9" fill="none"/><path d="M1019.3,1129.37L1092.7,1044.95M1019.3,1153.17L1092.7,1068.76M1019.3,1176.97L1092.7,1092.56M1019.3,1200.78L1092.7,1116.37M1019.3,1224.59L1092.7,1140.17M1019.3,1248.39L1092.7,1163.98M1019.3,1272.19L1092.7,1187.78M1019.3,1296L1092.7,1211.59M1019.3,1319.81L1092.7,1235.39" stroke="#000" stroke-width="1.8" fill="none"/></g><rect x="1021.3" y="1174.1" width="69.4" height="18.7" fill="none" stroke="#000" stroke-width="2"/><text class="s" font-size="32.5" transform="translate(1107.02,1193.6) scale(0.9802,1)">RV+GOS/FOS+2&#39;-FL</text></svg></body></html>
